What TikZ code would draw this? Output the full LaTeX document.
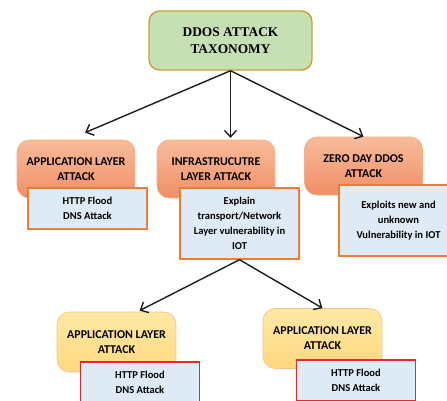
\documentclass[tikz,border=0pt]{standalone}
\usepackage{fontspec}
\setmainfont{Liberation Serif}
\newfontfamily\calibri{Carlito}
\usepackage{tikz}
\usetikzlibrary{positioning,arrows.meta,calc}
\definecolor{rootgreen}{RGB}{198,224,180}
\definecolor{rootgold}{RGB}{200,160,50}
\definecolor{attacktop}{RGB}{248,188,155}
\definecolor{attackbot}{RGB}{240,142,102}
\definecolor{attackline}{RGB}{244,177,131}
\definecolor{subtop}{RGB}{255,233,165}
\definecolor{subbot}{RGB}{255,216,128}
\definecolor{subline}{RGB}{249,196,128}
\definecolor{noteblue}{RGB}{222,235,247}
\definecolor{noteorange}{RGB}{237,125,49}
\definecolor{notered}{RGB}{235,40,40}
\definecolor{arrowgray}{RGB}{30,30,30}

\begin{document}
\begin{tikzpicture}[x=0.02cm, y=-0.02cm,
  every node/.style={font=\calibri\bfseries\fontsize{6}{8.5}\selectfont, align=center, inner sep=2pt},
  rootbox/.style={draw=rootgold, fill=rootgreen, line width=0.8pt, rounded corners=6pt,
                  minimum width=3.26cm, minimum height=1.18cm,
                  font=\rmfamily\bfseries\fontsize{7.6}{9.6}\selectfont},
  attack/.style={draw=attackline, top color=attacktop, bottom color=attackbot, rounded corners=7pt,
                 minimum width=2.36cm, minimum height=1.16cm,
                 font=\calibri\bfseries\fontsize{6.8}{8.5}\selectfont},
  sublayer/.style={attack, draw=subline, top color=subtop, bottom color=subbot,
                   minimum width=2.38cm, minimum height=1.2cm},
  note/.style={draw=noteorange, fill=noteblue, line width=0.8pt, minimum width=2.38cm},
  rednote/.style={note, draw=notered},
  link/.style={-{Straight Barb[length=1.3mm,width=2.4mm]}, arrowgray, line width=0.8pt}
]
\useasboundingbox (0,0) rectangle (447,400);
\clip (0,0) rectangle (447,400);

\node[rootbox] (root) at (230.5,40.5) {DDOS ATTACK\\TAXONOMY};

\node[attack] (app) at (76,169) {APPLICATION LAYER\\ATTACK};
\node[attack] (infra) at (216,169) {INFRASTRUCUTRE\\LAYER ATTACK};
\node[attack] (zero) at (363.5,166) {ZERO DAY DDOS\\ATTACK};

\node[note, minimum height=0.82cm] (appnote) at (87.5,208.5) {HTTP Flood\\DNS Attack};
\node[note, minimum height=1.42cm] (infranote) at (239.5,223.5) {Explain\\transport/Network\\Layer vulnerability in\\IOT};
\node[note, minimum height=1.42cm] (zeronote) at (398.5,220.5) {Exploits new and\\unknown\\Vulnerability in IOT};

\node[sublayer] (subleft) at (116.5,342) {APPLICATION LAYER\\ATTACK};
\node[sublayer] (subright) at (322.5,338.5) {APPLICATION LAYER\\ATTACK};

\node[rednote, minimum height=0.82cm] (floodleft) at (140,382.5) {HTTP Flood\\DNS Attack};
\node[rednote, minimum height=0.82cm] (floodright) at (356,380.5) {HTTP Flood\\DNS Attack};

% taxonomy branches
\draw[link] (root.south) -- ($(app.north)+(9,-7)$);
\draw[link, shorten >=1pt] (root.south) -- (root.south |- infra.north);
\draw[link] (root.south) -- (zero.north);

\draw[link] (infranote.south) -- ($(subleft.north)+(23,-1)$);
\draw[link] (infranote.south) -- (subright.north);
\end{tikzpicture}
\end{document}
